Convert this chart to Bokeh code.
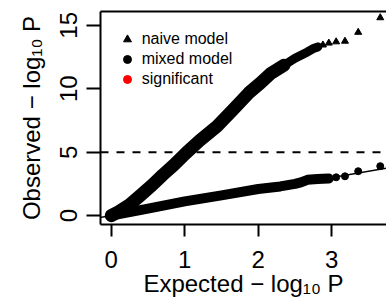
from math import pi
from bokeh.plotting import figure
from bokeh.models import (Range1d, FixedTicker, LinearAxis, Span, Legend,
                          LegendItem, ColumnDataSource, Slope)
from bokeh.embed import file_html
from bokeh.resources import INLINE

# ---- data (expected vs observed -log10 P) ----
naive_x = [0.00, 0.10, 0.25, 0.40, 0.56, 0.70, 0.85, 1.02, 1.20, 1.44, 1.65, 1.87,
           2.03, 2.17, 2.35, 2.50, 2.67, 2.76, 2.81, 2.88, 2.96, 3.06, 3.18, 3.36, 3.66]
naive_y = [0.00, 0.30, 0.86, 1.60, 2.42, 3.20, 3.98, 4.95, 5.90, 7.05, 8.30, 9.66,
           10.45, 11.20, 11.85, 12.40, 12.90, 13.20, 13.30, 13.45, 13.60, 13.70, 13.75, 14.45, 15.60]
mixed_x = [0.00, 0.50, 1.00, 1.50, 2.00, 2.30, 2.50, 2.58, 2.67, 2.76, 2.81, 2.88,
           2.96, 3.06, 3.18, 3.36, 3.66]
mixed_y = [0.00, 0.55, 1.12, 1.60, 2.10, 2.30, 2.50, 2.62, 2.82, 2.86, 2.88, 2.90,
           2.93, 3.02, 3.10, 3.50, 3.90]
sig_x = []   # no significant hits in the reference
sig_y = []
x_ticks = [0, 1, 2, 3]
y_ticks = [0, 5, 10, 15]
threshold = 5
series_names = ["naive model", "mixed model", "significant"]
x_title = "Expected \u2212 log\u2081\u2080 P"
y_title = "Observed \u2212 log\u2081\u2080 P"

FONT = "Liberation Sans"
W, H = 386, 299

p = figure(width=W, height=H, output_backend="svg", toolbar_location=None,
           x_range=Range1d(-0.146, 3.745), y_range=Range1d(-0.70, 16.09),
           x_axis_type=None, y_axis_type=None,
           min_border_left=100, min_border_right=0, min_border_top=11,
           min_border_bottom=73)
p.outline_line_color = None
p.background_fill_color = "white"
p.border_fill_color = "white"

# axes
yax = LinearAxis(ticker=FixedTicker(ticks=y_ticks), axis_line_width=2,
                 major_tick_line_width=2, major_tick_out=14, major_tick_in=0,
                 minor_tick_line_color=None, major_label_orientation="vertical",
                 major_label_standoff=9, major_label_text_font=FONT,
                 major_label_text_font_size="24px", major_label_text_color="black",
                 axis_label=y_title, axis_label_standoff=13,
                 axis_label_text_font=FONT, axis_label_text_font_size="24px",
                 axis_label_text_font_style="normal", axis_label_text_color="black")
p.add_layout(yax, "left")
xax = LinearAxis(ticker=FixedTicker(ticks=x_ticks), axis_line_width=2,
                 major_tick_line_width=2, major_tick_out=12, major_tick_in=0,
                 minor_tick_line_color=None, major_label_standoff=14,
                 major_label_text_font=FONT, major_label_text_font_size="24px",
                 major_label_text_color="black",
                 axis_label=x_title, axis_label_standoff=-1,
                 axis_label_text_font=FONT, axis_label_text_font_size="24px",
                 axis_label_text_font_style="normal", axis_label_text_color="black")
p.add_layout(xax, "below")
top = LinearAxis(ticker=FixedTicker(ticks=[]), axis_line_width=2, major_tick_out=0,
                 major_tick_in=0, major_tick_line_color=None, minor_tick_line_color=None,
                 major_label_standoff=0, major_label_text_font_size="0px")
p.add_layout(top, "above")

# reference lines
p.add_layout(Slope(gradient=1, y_intercept=0, line_color="black", line_width=1.5))
p.add_layout(Span(location=threshold, dimension="width", line_color="black",
                  line_width=2, line_dash="8 8"))

# dense parts drawn as thick bands of overlapping points
nd = [i for i, v in enumerate(naive_x) if v <= 2.35]
nu = [i for i, v in enumerate(naive_x) if 2.35 <= v <= 2.81]
p.line([naive_x[i] for i in nd], [naive_y[i] for i in nd], line_width=13,
       line_color="black", line_cap="round", line_join="round")
p.line([naive_x[i] for i in nu], [naive_y[i] for i in nu], line_width=9,
       line_color="black", line_cap="round", line_join="round")
md = [i for i, v in enumerate(mixed_x) if v <= 2.96]
p.line([mixed_x[i] for i in md], [mixed_y[i] for i in md], line_width=10,
       line_color="black", line_cap="round", line_join="round")

naive_pts = p.scatter(naive_x, naive_y, marker="triangle", size=7, fill_color="black",
                      line_color="black", line_width=1)
mixed_pts = p.scatter(mixed_x, mixed_y, marker="circle", size=7, fill_color="black",
                      line_color="black", line_width=1)
# a NaN placeholder keeps the legend swatch drawable while plotting nothing
sig_src = ColumnDataSource(dict(x=sig_x + [float("nan")], y=sig_y + [float("nan")]))
sig_pts = p.scatter("x", "y", source=sig_src, marker="circle", size=7,
                    fill_color="red", line_color="red")

legend = Legend(items=[LegendItem(label=series_names[0], renderers=[naive_pts]),
                       LegendItem(label=series_names[1], renderers=[mixed_pts]),
                       LegendItem(label=series_names[2], renderers=[sig_pts])],
                location=(16.7, 135.3), orientation="vertical", border_line_color=None,
                background_fill_alpha=0, padding=0, margin=0, spacing=0,
                glyph_width=20, glyph_height=20, label_height=20, label_standoff=5,
                label_text_font=FONT, label_text_font_size="16px",
                label_text_color="black")
p.add_layout(legend)

open("out.html", "w").write(file_html(p, INLINE))
